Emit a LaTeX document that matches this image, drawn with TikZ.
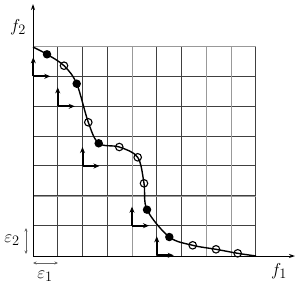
\documentclass[tikz,border=0pt]{standalone}
\usetikzlibrary{arrows.meta}
\begin{document}
\begin{tikzpicture}[x=1pt,y=-1pt,
  gridline/.style={line width=1pt,draw=black!75},
  gridlight/.style={line width=1pt,draw=black!40},
  axis/.style={line width=1pt,-{Stealth[length=6pt,width=4pt]}},
  eps/.style={line width=0.6pt,draw=black!60,{Stealth[length=3.5pt,width=3pt]}-{Stealth[length=3.5pt,width=3pt]}},
  corner/.style={line width=2pt,-{Stealth[length=6pt,width=5pt]}},
  curve/.style={line width=1.4pt},
  fdot/.style={circle,fill=black,inner sep=0pt,minimum size=8.5pt},
  odot/.style={circle,draw=black,line width=1.1pt,inner sep=0pt,minimum size=7.5pt},
  lbl/.style={inner sep=0pt,font=\fontsize{19}{22}\selectfont}]
\useasboundingbox (0,0) rectangle (300,287);
% grid
\foreach \k in {1,...,9} {
  \pgfmathsetmacro\xx{33+24.75*\k}
  \draw[gridline] (\xx,46.7) -- (\xx,255.5);
}
\foreach \k in {1,...,6} {
  \pgfmathsetmacro\yy{46.7+29.8*\k}
  \draw[gridline] (33,\yy) -- (255.75,\yy);
}
\draw[gridlight] (33,46.7) -- (255.75,46.7);
\draw[gridlight] (132,46.7) -- (132,255.5);
\draw[gridlight] (206.25,46.7) -- (206.25,255.5);
\draw[gridlight] (231,46.7) -- (231,255.5);
\draw[gridlight] (33,196.1) -- (255.75,196.1);
% axes
\coordinate (O) at (33,256);
\coordinate (xend) at (295,256);
\coordinate (yend) at (33,4);
\draw[axis] (O) -- (xend);
\draw[axis] (O) -- (yend);
\node[lbl] (f2) at (18,27) {$f_2$};
\node[lbl] (f1) at (279,271) {$f_1$};
% epsilon
\coordinate (e2a) at (26,228);
\coordinate (e2b) at (26,254);
\draw[eps] (e2a) -- (e2b);
\node[lbl] (eps2) at (12,240) {$\varepsilon_2$};
\coordinate (e1a) at (33,263);
\coordinate (e1b) at (58,263);
\draw[eps] (e1a) -- (e1b);
\node[lbl] (eps1) at (45,276) {$\varepsilon_1$};
% corner arrows
\foreach \cx/\cy/\n in {33.3/76.3/a,57.75/106.3/b,82.5/166/c,132/225.7/d,156.75/255.3/e} {
  \coordinate (c\n) at (\cx,\cy);
  \coordinate (u\n) at (\cx,\cy-19);
  \coordinate (r\n) at (\cx+17,\cy);
  \draw[corner] (c\n) -- (u\n);
  \draw[corner] (c\n) -- (r\n);
}
% curve
\draw[curve] plot[smooth,tension=0.55] coordinates {(33,47) (47,54.3) (64,65.7) (76.7,83.7) (88.3,122.3) (98.7,143.3) (119.3,147) (137.7,157.3) (144,183.3) (147,209.7) (169.3,237) (192.7,245.3) (216,249.3) (237.7,253.3) (256,256)};
% points
\node[fdot] (p1) at (47,54.3) {};
\node[odot] (p2) at (64,65.7) {};
\node[fdot] (p3) at (76.7,83.7) {};
\node[odot] (p4) at (88.3,122.3) {};
\node[fdot] (p5) at (98.7,143.3) {};
\node[odot] (p6) at (119.3,147) {};
\node[odot] (p7) at (137.7,157.3) {};
\node[odot] (p8) at (144,183.3) {};
\node[fdot] (p9) at (147,209.7) {};
\node[fdot] (p10) at (169.3,237) {};
\node[odot] (p11) at (192.7,245.3) {};
\node[odot] (p12) at (216,249.3) {};
\node[odot] (p13) at (237.7,253.3) {};
\end{tikzpicture}
\end{document}
